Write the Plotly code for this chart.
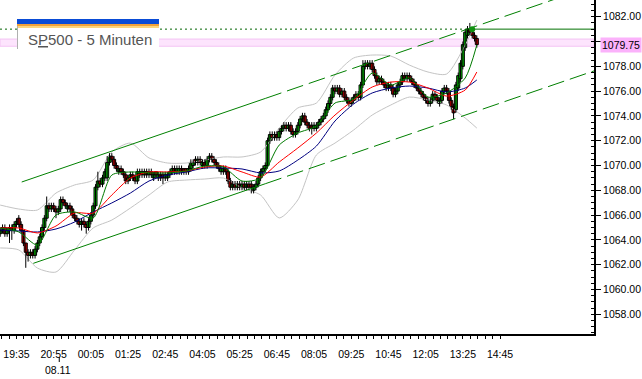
import plotly.graph_objects as go

# ---------------- data ----------------
time_labels = ["19:35", "20:55", "00:05", "01:25", "02:45", "04:05", "05:25",
               "06:45", "08:05", "09:25", "10:45", "12:05", "13:25", "14:45"]
date_label = "08.11"
date_bar = 25

bars = list(range(206))

opens = [
    1064.50, 1064.75, 1065.00, 1064.50, 1064.75, 1065.00, 1064.75, 1065.25,
    1065.75, 1065.25, 1064.75, 1063.75, 1063.00, 1062.75, 1063.00, 1062.75,
    1063.25, 1063.75, 1064.25, 1065.00, 1065.75, 1066.75, 1066.50, 1066.75,
    1066.50, 1066.25, 1066.50, 1067.25, 1067.00, 1066.50, 1066.75, 1066.50,
    1066.00, 1065.75, 1065.50, 1065.25, 1065.50, 1065.25, 1065.00, 1065.50,
    1066.00, 1066.75, 1068.25, 1068.75, 1068.50, 1069.00, 1069.00, 1070.25,
    1070.75, 1070.50, 1070.00, 1069.50, 1069.75, 1069.50, 1069.25, 1068.75,
    1069.00, 1069.25, 1069.00, 1068.75, 1069.25, 1069.50, 1069.25, 1069.50,
    1069.25, 1069.50, 1069.00, 1069.50, 1069.00, 1069.25, 1069.25, 1069.00,
    1069.00, 1069.25, 1069.50, 1069.75, 1069.50, 1069.50, 1069.75, 1069.75,
    1069.75, 1069.50, 1069.75, 1070.00, 1070.50, 1070.25, 1070.50, 1070.00,
    1070.25, 1070.00, 1070.50, 1070.75, 1070.50, 1070.25, 1070.00, 1069.50,
    1069.50, 1069.75, 1069.50, 1068.75, 1068.25, 1068.50, 1068.25, 1068.50,
    1068.25, 1068.50, 1068.25, 1068.50, 1068.50, 1068.00, 1068.25, 1068.50,
    1069.00, 1069.50, 1069.75, 1070.00, 1072.00, 1072.50, 1072.25, 1072.50,
    1072.25, 1072.75, 1073.00, 1073.25, 1073.00, 1073.25, 1072.75, 1072.50,
    1072.75, 1073.25, 1073.75, 1074.00, 1073.50, 1073.25, 1073.25, 1073.00,
    1073.00, 1073.25, 1073.50, 1073.75, 1074.00, 1074.50, 1075.00, 1075.50,
    1076.25, 1076.00, 1076.25, 1075.75, 1076.00, 1075.50, 1075.25, 1075.00,
    1075.25, 1075.75, 1075.50, 1075.50, 1076.50, 1078.00, 1078.25, 1078.00,
    1078.25, 1077.75, 1077.25, 1076.75, 1077.00, 1076.75, 1076.50, 1076.25,
    1076.50, 1076.25, 1075.75, 1076.00, 1076.50, 1076.75, 1077.25, 1077.00,
    1077.25, 1077.00, 1076.75, 1076.50, 1076.25, 1076.00, 1075.75, 1075.50,
    1075.25, 1075.00, 1075.25, 1075.75, 1075.50, 1075.00, 1075.25, 1076.00,
    1076.25, 1076.00, 1075.25, 1074.75, 1074.50, 1076.25, 1077.00, 1078.00,
    1079.50, 1080.50, 1081.00, 1080.75, 1080.50, 1080.25,
]
highs = [
    1065.00, 1065.25, 1065.25, 1065.00, 1065.25, 1065.25, 1065.50, 1065.75,
    1066.00, 1065.50, 1064.75, 1063.75, 1063.25, 1063.25, 1063.25, 1063.50,
    1064.00, 1064.50, 1065.25, 1066.00, 1067.50, 1067.00, 1067.00, 1067.00,
    1066.75, 1066.75, 1067.50, 1067.50, 1067.25, 1067.00, 1067.00, 1066.75,
    1066.25, 1066.00, 1065.75, 1065.75, 1065.75, 1065.50, 1065.75, 1066.25,
    1067.00, 1068.50, 1069.50, 1069.00, 1069.25, 1069.75, 1070.75, 1071.00,
    1071.00, 1070.75, 1070.25, 1070.00, 1070.00, 1069.75, 1069.50, 1069.25,
    1069.50, 1069.50, 1069.25, 1069.75, 1069.75, 1069.75, 1069.75, 1069.75,
    1069.75, 1069.75, 1069.50, 1069.50, 1069.50, 1069.50, 1069.50, 1069.50,
    1069.50, 1069.75, 1070.00, 1070.00, 1070.00, 1070.00, 1070.00, 1069.75,
    1069.75, 1070.00, 1070.50, 1070.50, 1070.75, 1070.75, 1070.75, 1070.50,
    1070.50, 1070.75, 1071.00, 1071.00, 1070.75, 1070.50, 1070.25, 1070.00,
    1070.00, 1070.00, 1069.75, 1069.00, 1068.75, 1068.75, 1068.75, 1068.75,
    1068.75, 1068.75, 1068.75, 1068.75, 1068.75, 1068.50, 1068.75, 1069.25,
    1069.75, 1070.00, 1070.25, 1072.25, 1072.75, 1072.75, 1072.75, 1072.75,
    1073.00, 1073.25, 1073.50, 1073.50, 1073.50, 1073.50, 1073.00, 1073.00,
    1073.50, 1074.00, 1074.25, 1074.25, 1073.75, 1073.50, 1073.50, 1073.50,
    1073.50, 1073.75, 1074.00, 1074.25, 1074.75, 1075.25, 1075.75, 1076.50,
    1076.50, 1076.50, 1076.50, 1076.25, 1076.25, 1075.75, 1075.50, 1075.50,
    1075.75, 1076.00, 1076.00, 1076.75, 1078.50, 1078.50, 1078.50, 1078.50,
    1078.50, 1078.00, 1077.50, 1077.25, 1077.25, 1077.00, 1076.75, 1076.75,
    1076.75, 1076.50, 1076.25, 1076.75, 1077.00, 1077.50, 1077.50, 1077.50,
    1077.50, 1077.25, 1077.00, 1076.75, 1076.50, 1076.25, 1076.00, 1075.75,
    1075.50, 1075.50, 1076.00, 1076.00, 1075.75, 1075.50, 1076.25, 1076.50,
    1076.50, 1076.25, 1075.50, 1075.00, 1076.75, 1077.50, 1078.50, 1080.00,
    1081.00, 1081.25, 1081.50, 1081.00, 1080.75, 1080.50,
]
lows = [
    1064.25, 1064.50, 1064.25, 1064.25, 1063.75, 1064.00, 1064.50, 1065.00,
    1065.00, 1064.50, 1063.50, 1061.75, 1062.25, 1062.50, 1062.50, 1062.50,
    1063.00, 1063.50, 1064.00, 1064.75, 1065.50, 1066.25, 1066.25, 1066.25,
    1065.75, 1066.00, 1066.25, 1066.75, 1066.50, 1066.25, 1066.25, 1065.75,
    1065.50, 1065.25, 1065.00, 1064.75, 1065.00, 1064.50, 1064.75, 1065.25,
    1065.75, 1066.50, 1068.00, 1068.25, 1068.25, 1068.75, 1068.75, 1070.00,
    1070.25, 1069.75, 1069.50, 1069.25, 1069.25, 1069.00, 1068.50, 1068.50,
    1068.75, 1068.75, 1068.50, 1068.50, 1069.00, 1069.00, 1069.00, 1069.00,
    1069.00, 1069.00, 1068.75, 1069.00, 1068.75, 1068.75, 1068.50, 1068.75,
    1068.75, 1069.00, 1069.25, 1069.25, 1069.25, 1069.25, 1069.25, 1069.25,
    1069.25, 1069.25, 1069.50, 1069.75, 1070.00, 1070.00, 1070.00, 1069.75,
    1069.75, 1069.75, 1070.25, 1070.25, 1070.00, 1069.75, 1069.50, 1069.25,
    1069.25, 1069.25, 1068.50, 1068.00, 1068.00, 1068.00, 1068.00, 1068.00,
    1068.00, 1068.00, 1068.00, 1068.00, 1067.75, 1067.75, 1068.00, 1068.25,
    1068.75, 1069.25, 1069.50, 1069.75, 1071.75, 1072.00, 1072.00, 1072.00,
    1072.00, 1072.50, 1072.75, 1072.75, 1072.75, 1072.50, 1072.25, 1072.25,
    1072.50, 1073.00, 1073.50, 1073.25, 1073.00, 1072.75, 1072.50, 1072.75,
    1072.75, 1073.00, 1073.25, 1073.50, 1073.75, 1074.25, 1074.75, 1075.25,
    1075.75, 1075.75, 1075.50, 1075.50, 1075.25, 1075.00, 1074.75, 1074.75,
    1075.00, 1075.25, 1075.25, 1075.25, 1076.25, 1077.75, 1077.75, 1077.75,
    1077.50, 1077.00, 1076.50, 1076.50, 1076.50, 1076.25, 1076.00, 1076.00,
    1076.00, 1075.50, 1075.50, 1075.75, 1076.25, 1076.50, 1076.75, 1076.75,
    1076.75, 1076.50, 1076.25, 1076.00, 1075.75, 1075.50, 1075.25, 1075.00,
    1074.75, 1074.75, 1075.00, 1075.25, 1075.00, 1074.75, 1075.00, 1075.75,
    1075.75, 1075.00, 1074.50, 1073.75, 1074.25, 1076.00, 1076.75, 1077.75,
    1079.25, 1080.25, 1080.50, 1080.25, 1080.00, 1079.50,
]
closes = [
    1064.75, 1065.00, 1064.50, 1064.75, 1065.00, 1064.75, 1065.25, 1065.50,
    1065.25, 1064.75, 1063.75, 1063.00, 1062.75, 1063.00, 1062.75, 1063.25,
    1063.75, 1064.25, 1065.00, 1065.75, 1066.75, 1066.50, 1066.75, 1066.50,
    1066.25, 1066.50, 1067.25, 1067.00, 1066.75, 1066.75, 1066.50, 1066.00,
    1065.75, 1065.50, 1065.25, 1065.50, 1065.25, 1065.00, 1065.50, 1066.00,
    1066.75, 1068.25, 1068.75, 1068.50, 1069.00, 1069.50, 1070.25, 1070.75,
    1070.50, 1070.00, 1069.75, 1069.75, 1069.50, 1069.25, 1068.75, 1069.00,
    1069.25, 1069.00, 1068.75, 1069.50, 1069.50, 1069.25, 1069.50, 1069.25,
    1069.50, 1069.25, 1069.25, 1069.25, 1069.25, 1069.00, 1069.00, 1069.25,
    1069.25, 1069.50, 1069.75, 1069.50, 1069.75, 1069.75, 1069.50, 1069.50,
    1069.50, 1069.75, 1070.25, 1070.25, 1070.25, 1070.50, 1070.25, 1070.25,
    1070.00, 1070.50, 1070.75, 1070.50, 1070.25, 1070.00, 1069.75, 1069.75,
    1069.75, 1069.50, 1068.75, 1068.25, 1068.50, 1068.25, 1068.50, 1068.25,
    1068.50, 1068.25, 1068.50, 1068.25, 1068.25, 1068.25, 1068.50, 1069.00,
    1069.50, 1069.75, 1070.00, 1072.00, 1072.50, 1072.25, 1072.50, 1072.25,
    1072.75, 1073.00, 1073.25, 1073.00, 1073.25, 1072.75, 1072.50, 1072.75,
    1073.25, 1073.75, 1074.00, 1073.50, 1073.25, 1073.00, 1073.00, 1073.25,
    1073.25, 1073.50, 1073.75, 1074.00, 1074.50, 1075.00, 1075.50, 1076.25,
    1076.00, 1076.25, 1075.75, 1076.00, 1075.50, 1075.25, 1075.00, 1075.25,
    1075.50, 1075.50, 1075.75, 1076.50, 1078.00, 1078.25, 1078.00, 1078.25,
    1077.75, 1077.25, 1076.75, 1077.00, 1076.75, 1076.50, 1076.25, 1076.50,
    1076.25, 1075.75, 1076.00, 1076.50, 1076.75, 1077.25, 1077.00, 1077.25,
    1077.00, 1076.75, 1076.50, 1076.25, 1076.00, 1075.75, 1075.50, 1075.25,
    1075.00, 1075.25, 1075.75, 1075.50, 1075.25, 1075.25, 1076.00, 1076.25,
    1076.00, 1075.25, 1074.75, 1074.25, 1076.50, 1077.25, 1078.25, 1079.75,
    1080.75, 1081.00, 1080.75, 1080.50, 1080.25, 1079.75,
]

# indicator lines, read every 8 bars
ind_bars = [0, 8, 16, 24, 32, 40, 48, 56, 64, 72, 80, 88, 96, 104, 112, 120,
            128, 136, 144, 152, 160, 168, 176, 184, 192, 200, 205]
ma_fast = [1064.96, 1064.64, 1063.59, 1066.01, 1066.25, 1065.77, 1069.23, 1069.48,
           1069.40, 1069.40, 1069.56, 1069.96, 1069.88, 1068.75, 1068.99, 1071.65,
           1072.62, 1073.19, 1075.04, 1075.36, 1077.46, 1076.49, 1077.06, 1075.52,
           1075.85, 1077.06, 1079.72]
ma_mid = [1064.96, 1064.96, 1064.56, 1065.12, 1066.17, 1066.17, 1067.62, 1068.99,
          1069.48, 1069.48, 1069.56, 1069.88, 1069.96, 1069.48, 1069.07, 1070.28,
          1071.41, 1072.62, 1074.07, 1075.28, 1076.33, 1076.73, 1076.73, 1076.25,
          1075.60, 1076.09, 1077.54]
ma_slow = [1064.80, 1064.72, 1064.64, 1064.88, 1065.44, 1066.25, 1066.98, 1067.78,
           1068.75, 1069.23, 1069.48, 1069.80, 1069.80, 1069.72, 1069.40, 1069.56,
           1070.44, 1071.57, 1073.59, 1074.96, 1075.85, 1076.25, 1076.41, 1076.25,
           1075.93, 1076.25, 1076.90]
bb_upper = [1066.81, 1066.49, 1066.41, 1067.78, 1068.43, 1068.83, 1071.09, 1071.81,
            1070.61, 1070.20, 1070.20, 1070.44, 1070.69, 1070.69, 1071.09, 1073.02,
            1074.64, 1075.04, 1077.30, 1078.67, 1078.91, 1078.83, 1078.10, 1077.54,
            1077.38, 1079.72, 1081.73]
bb_lower = [1063.35, 1063.19, 1061.73, 1061.41, 1063.19, 1064.96, 1065.60, 1066.57,
            1067.62, 1068.67, 1068.83, 1068.91, 1068.99, 1068.19, 1067.62, 1065.77,
            1067.22, 1070.85, 1071.81, 1072.86, 1074.07, 1074.88, 1075.52, 1075.28,
            1074.88, 1073.83, 1073.02]

# trend channel (bar, price) – solid part then extension
chan_upper_bars = [9.25, 114.0, 255.4]
chan_upper_prices = [1068.67, 1075.41, 1084.50]
chan_lower_bars = [14.24, 114.0, 255.4]
chan_lower_prices = [1062.11, 1068.53, 1077.63]

# horizontal level and last price marker
level_price = 1081.0
level_bar = 203
last_price = 1079.75
y_ticks = [1058, 1060, 1062, 1064, 1066, 1068, 1070, 1072, 1074, 1076, 1078, 1080, 1082]
title_text = "S<span style='text-decoration:underline'>P</span>500 - 5 Minuten"

# ---------------- figure ----------------
X0, X1 = -0.086, 255.4
Y0, Y1 = 1056.41, 1083.35
PW, PH = 594.0, 334.0
FONT = "Liberation Sans, Arial, sans-serif"

fig = go.Figure()

for ys in (bb_upper, bb_lower):
    fig.add_trace(go.Scatter(x=ind_bars, y=ys, mode="lines", hoverinfo="skip",
                             line=dict(color="#c4c4c4", width=1, shape="spline", smoothing=0.7)))

# candle wicks
wx, wy = [], []
for b, h, l in zip(bars, highs, lows):
    wx += [b, b, None]
    wy += [l, h, None]
fig.add_trace(go.Scatter(x=wx, y=wy, mode="lines", hoverinfo="skip",
                         line=dict(color="black", width=1)))

# candle bodies
body_base = [min(o, c) for o, c in zip(opens, closes)]
body_len = [max(abs(c - o), 0.06) for o, c in zip(opens, closes)]
body_col = ["#00dc00" if c >= o else "#ee0000" for o, c in zip(opens, closes)]
fig.add_trace(go.Bar(x=bars, y=body_len, base=body_base, width=1.3,
                     marker=dict(color=body_col, line=dict(color="black", width=1)),
                     hoverinfo="skip"))

for ys, col in ((ma_slow, "#000080"), (ma_mid, "#ff0000"), (ma_fast, "#007a00")):
    fig.add_trace(go.Scatter(x=ind_bars, y=ys, mode="lines", hoverinfo="skip",
                             line=dict(color=col, width=1, shape="spline", smoothing=0.7)))

# channel
for bx, py in ((chan_upper_bars, chan_upper_prices), (chan_lower_bars, chan_lower_prices)):
    fig.add_trace(go.Scatter(x=bx[:2], y=py[:2], mode="lines", hoverinfo="skip",
                             line=dict(color="#008000", width=1)))
    fig.add_trace(go.Scatter(x=bx[1:], y=py[1:], mode="lines", hoverinfo="skip",
                             line=dict(color="#008000", width=1, dash="17px,6px")))

# level line
fig.add_trace(go.Scatter(x=[X0, level_bar], y=[level_price, level_price], mode="lines",
                         hoverinfo="skip", line=dict(color="#006400", width=1, dash="2px,3px")))
fig.add_trace(go.Scatter(x=[level_bar, X1], y=[level_price, level_price], mode="lines",
                         hoverinfo="skip", line=dict(color="#007000", width=1)))
fig.add_trace(go.Scatter(x=[level_bar], y=[level_price], mode="markers", hoverinfo="skip",
                         marker=dict(color="#109010", size=6)))


def px(x):
    return x / PW


def py_(y):
    return 1 - y / PH


shapes = []
# pink last-price band
shapes.append(dict(type="rect", xref="paper", yref="y", x0=0, x1=1,
                   y0=last_price - 0.13, y1=last_price + 0.45,
                   fillcolor="#fde4fd", line=dict(color="#f4c4f4", width=1), layer="below"))
# title box
shapes.append(dict(type="rect", xref="paper", yref="paper", x0=px(17), x1=px(159),
                   y0=py_(49), y1=py_(27), fillcolor="white", line=dict(width=0), layer="above"))
shapes.append(dict(type="rect", xref="paper", yref="paper", x0=px(17), x1=px(159),
                   y0=py_(24), y1=py_(19), fillcolor="#0a4cd6", line=dict(width=0), layer="above"))
shapes.append(dict(type="rect", xref="paper", yref="paper", x0=px(17), x1=px(159),
                   y0=py_(26), y1=py_(24), fillcolor="#f0a03a", line=dict(width=0), layer="above"))
shapes.append(dict(type="rect", xref="paper", yref="paper", x0=px(17), x1=px(159),
                   y0=py_(28), y1=py_(26), fillcolor="#fcd67c", line=dict(width=0), layer="above"))
shapes.append(dict(type="line", xref="paper", yref="paper", x0=px(17.5), x1=px(17.5),
                   y0=py_(49), y1=py_(26), line=dict(color="#b0b0b0", width=1), layer="above"))
# little date tick below the time labels
shapes.append(dict(type="line", xref="x", yref="paper", x0=date_bar + 0.4, x1=date_bar + 0.4,
                   y0=py_(357), y1=py_(362), line=dict(color="black", width=1)))

annotations = [
    dict(text=title_text, xref="paper", yref="paper", x=px(26), y=py_(39.5),
         xanchor="left", yanchor="middle", showarrow=False,
         font=dict(family=FONT, size=15, color="#555555")),
    dict(text=date_label, xref="x", yref="paper", x=date_bar, y=py_(370),
         xanchor="center", yanchor="middle", showarrow=False,
         font=dict(family=FONT, size=10.5, color="black")),
    dict(text=f"{last_price:.2f}", xref="paper", yref="y", x=1, y=last_price,
         xanchor="left", yanchor="middle", xshift=6, showarrow=False, bgcolor="#fbb2fb",
         borderpad=1, font=dict(family=FONT, size=10.5, color="black")),
]

# x tick marks (every 3.2 bars) with labels on every fifth
xt_vals, xt_text = [], []
k = -2
while True:
    v = 7 + 3.2 * k
    if v > 216:
        break
    if v >= 0:
        xt_vals.append(v)
        xt_text.append(time_labels[k // 5] if k % 5 == 0 else "")
    k += 1

y_text = ["" if v == 1080 else f"{v:.2f}" for v in y_ticks]

fig.update_layout(
    width=642, height=379,
    margin=dict(l=0, r=48, t=0, b=45),
    paper_bgcolor="white", plot_bgcolor="white",
    showlegend=False, bargap=0, hovermode=False,
    shapes=shapes, annotations=annotations,
    xaxis=dict(range=[X0, X1], showgrid=False, zeroline=False, showline=True,
               linecolor="black", linewidth=2, ticks="outside", ticklen=3,
               tickcolor="black", tickwidth=1, tickmode="array",
               tickvals=xt_vals, ticktext=xt_text, ticklabelstandoff=6,
               tickfont=dict(family=FONT, size=10.5, color="black"),
               fixedrange=True),
    yaxis=dict(range=[Y0, Y1], side="right", showgrid=False, zeroline=False,
               showline=True, linecolor="black", linewidth=2,
               ticks="outside", ticklen=5, tickcolor="black", tickwidth=1,
               tickmode="array", tickvals=y_ticks, ticktext=y_text,
               tickfont=dict(family=FONT, size=10.5, color="black"),
               minor=dict(ticks="inside", ticklen=3, dtick=0.5, tick0=1058,
                          tickcolor="black", showgrid=False),
               fixedrange=True),
)

fig.write_html("out.html", config={"displayModeBar": False, "staticPlot": True},
               post_script="document.body.style.margin='0px';document.body.style.padding='0px';")
